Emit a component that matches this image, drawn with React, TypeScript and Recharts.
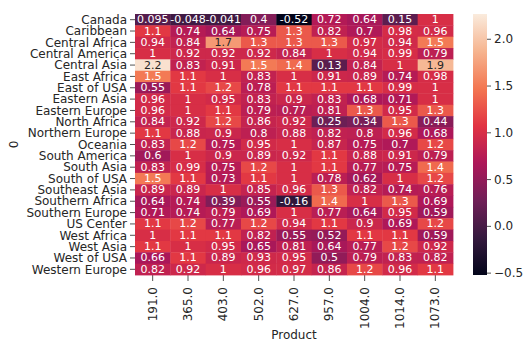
import { ScatterChart, Scatter, XAxis, YAxis, Customized } from "recharts";

const regions = [
  "Canada", "Caribbean", "Central Africa", "Central America", "Central Asia",
  "East Africa", "East of USA", "Eastern Asia", "Eastern Europe", "North Africa",
  "Northern Europe", "Oceania", "South America", "South Asia", "South of  USA",
  "Southeast Asia", "Southern Africa", "Southern Europe", "US Center", "West Africa",
  "West Asia", "West of USA", "Western Europe",
];

const products = ["191.0", "365.0", "403.0", "502.0", "627.0", "957.0", "1004.0", "1014.0", "1073.0"];

const values: number[][] = [
  [0.095, -0.048, -0.041, 0.4, -0.52, 0.72, 0.64, 0.15, 1],
  [1.1, 0.74, 0.64, 0.75, 1.3, 0.82, 0.7, 0.98, 0.96],
  [0.94, 0.84, 1.7, 1.3, 1.3, 1.3, 0.97, 0.94, 1.5],
  [1, 0.92, 0.92, 0.92, 0.84, 1, 0.94, 0.99, 0.79],
  [2.2, 0.83, 0.91, 1.5, 1.4, 0.13, 0.84, 1, 1.9],
  [1.5, 1.1, 1, 0.83, 1, 0.91, 0.89, 0.74, 0.98],
  [0.55, 1.1, 1.2, 0.78, 1.1, 1.1, 1.1, 0.99, 1],
  [0.96, 1, 0.95, 0.83, 0.9, 0.83, 0.68, 0.71, 1],
  [0.96, 1, 1.1, 0.79, 0.77, 0.81, 1.3, 0.95, 1.3],
  [0.84, 0.92, 1.2, 0.86, 0.92, 0.25, 0.34, 1.3, 0.44],
  [1.1, 0.88, 0.9, 0.8, 0.88, 0.82, 0.8, 0.96, 0.68],
  [0.83, 1.2, 0.75, 0.95, 1, 0.87, 0.75, 0.7, 1.2],
  [0.6, 1, 0.9, 0.89, 0.92, 1.1, 0.88, 0.91, 0.79],
  [0.83, 0.99, 0.75, 1.2, 1, 1.1, 0.77, 0.75, 1.4],
  [1.5, 1.1, 0.73, 1.1, 1, 0.78, 0.62, 1, 1.2],
  [0.89, 0.89, 1, 0.85, 0.96, 1.3, 0.82, 0.74, 0.76],
  [0.64, 0.74, 0.39, 0.55, -0.16, 1.4, 1, 1.3, 0.69],
  [0.71, 0.74, 0.79, 0.69, 1, 0.77, 0.64, 0.95, 0.59],
  [1.1, 1.2, 0.77, 1.2, 0.94, 1.1, 0.9, 0.69, 1.2],
  [1, 1.1, 1.1, 0.82, 0.55, 0.52, 1.1, 1.1, 0.59],
  [1.1, 1, 0.95, 0.65, 0.81, 0.64, 0.77, 1.2, 0.92],
  [0.66, 1.1, 0.89, 0.93, 0.95, 0.5, 0.79, 0.83, 0.82],
  [0.82, 0.92, 1, 0.96, 0.97, 0.86, 1.2, 0.96, 1.1],
];

const colorbarTicks = [2.0, 1.5, 1.0, 0.5, 0.0, -0.5];

const VMIN = -0.52;
const VMAX = 2.27;

// seaborn "rocket" colormap, sampled
const rocket = [
  [0, "#03051a"],
  [0.143, "#35193e"],
  [0.286, "#701f57"],
  [0.429, "#ad1759"],
  [0.571, "#e13342"],
  [0.714, "#f37651"],
  [0.857, "#f6b48f"],
  [1, "#faebdd"],
] as const;

const W = 525;
const H = 341;
const M = { top: 14, right: 72, bottom: 2, left: 10 };
const Y_W = 125;
const X_H = 64;
const PLOT_W = W - M.left - M.right - Y_W;
const PLOT_H = H - M.top - M.bottom - X_H;
const CELL_W = PLOT_W / products.length;
const CELL_H = PLOT_H / regions.length;
const FONT = "'DejaVu Sans', sans-serif";
const INK = "#262626";

const hexToRgb = (h: string) => [1, 3, 5].map((i) => parseInt(h.slice(i, i + 2), 16));

function rocketRgb(t: number) {
  const c = Math.max(0, Math.min(1, t));
  for (let i = 1; i < rocket.length; i++) {
    const [t1, h1] = rocket[i];
    if (c <= t1) {
      const [t0, h0] = rocket[i - 1];
      const f = (c - t0) / (t1 - t0);
      const a = hexToRgb(h0);
      const b = hexToRgb(h1);
      return a.map((v, k) => Math.round(v + (b[k] - v) * f));
    }
  }
  return hexToRgb(rocket[rocket.length - 1][1]);
}

function luminance(rgb: number[]) {
  const lin = rgb.map((v) => {
    const s = v / 255;
    return s <= 0.03928 ? s / 12.92 : Math.pow((s + 0.055) / 1.055, 2.4);
  });
  return 0.2126 * lin[0] + 0.7152 * lin[1] + 0.0722 * lin[2];
}

const fmt = (v: number) => String(Number(v.toPrecision(2)));

const cells = regions.flatMap((r, yi) =>
  products.map((p, xi) => ({ x: xi, y: yi, value: values[yi][xi], region: r, product: p }))
);

const Cell = (props: any) => {
  const { cx, cy, payload } = props;
  const rgb = rocketRgb((payload.value - VMIN) / (VMAX - VMIN));
  const textColor = luminance(rgb) > 0.408 ? "#262626" : "#ffffff";
  return (
    <g>
      <rect
        x={cx - CELL_W / 2}
        y={cy - CELL_H / 2}
        width={CELL_W + 0.4}
        height={CELL_H + 0.4}
        fill={`rgb(${rgb.join(",")})`}
      />
      <text
        x={cx}
        y={cy}
        textAnchor="middle"
        dominantBaseline="central"
        fontSize={11}
        fontFamily={FONT}
        fill={textColor}
      >
        {fmt(payload.value)}
      </text>
    </g>
  );
};

const XTick = ({ x, y, payload }: any) => (
  <text
    transform={`translate(${x},${y}) rotate(-90)`}
    textAnchor="end"
    dominantBaseline="central"
    fontSize={12}
    fontFamily={FONT}
    fill={INK}
  >
    {products[payload.value]}
  </text>
);

const Extras = () => {
  const x0 = M.left + Y_W + PLOT_W + 20;
  const y0 = M.top;
  const bw = 14;
  const toY = (v: number) => y0 + ((VMAX - v) / (VMAX - VMIN)) * PLOT_H;
  return (
    <g>
      <defs>
        <linearGradient id="rocketBar" x1="0" y1="1" x2="0" y2="0">
          {rocket.map(([t, h]) => (
            <stop key={t} offset={`${t * 100}%`} stopColor={h} />
          ))}
        </linearGradient>
      </defs>
      <rect x={x0} y={y0} width={bw} height={PLOT_H} fill="url(#rocketBar)" />
      {colorbarTicks.map((v) => (
        <g key={v}>
          <line x1={x0 + bw} x2={x0 + bw + 4} y1={toY(v)} y2={toY(v)} stroke={INK} strokeWidth={0.8} />
          <text
            x={x0 + bw + 7}
            y={toY(v)}
            dominantBaseline="central"
            fontSize={12}
            fontFamily={FONT}
            fill={INK}
          >
            {v < 0 ? `\u2212${Math.abs(v).toFixed(1)}` : v.toFixed(1)}
          </text>
        </g>
      ))}
      <text
        transform={`translate(14,${M.top + PLOT_H / 2}) rotate(-90)`}
        textAnchor="middle"
        dominantBaseline="central"
        fontSize={12}
        fontFamily={FONT}
        fill={INK}
      >
        0
      </text>
    </g>
  );
};

export default function App() {
  return (
    <div style={{ position: "absolute", left: 0, top: 0, width: W, height: H, background: "#fff" }}>
      <ScatterChart width={W} height={H} margin={M}>
        <XAxis
          type="number"
          dataKey="x"
          domain={[-0.5, products.length - 0.5]}
          ticks={products.map((_, i) => i)}
          interval={0}
          height={X_H}
          axisLine={false}
          tickLine={{ stroke: INK, strokeWidth: 0.8 }}
          tickSize={6}
          tickMargin={6}
          tick={<XTick />}
          label={{ value: "Product", position: "insideBottom", offset: 0, fontSize: 12, fill: INK, fontFamily: FONT }}
        />
        <YAxis
          type="number"
          dataKey="y"
          reversed
          domain={[-0.5, regions.length - 0.5]}
          ticks={regions.map((_, i) => i)}
          interval={0}
          width={Y_W}
          axisLine={false}
          tickLine={{ stroke: INK, strokeWidth: 0.8 }}
          tickSize={5}
          tickMargin={3}
          tickFormatter={(v) => regions[v]}
          tick={{ fontSize: 12, fill: INK, fontFamily: FONT }}
        />
        <Scatter data={cells} shape={<Cell />} isAnimationActive={false} />
        <Customized component={<Extras />} />
      </ScatterChart>
    </div>
  );
}
